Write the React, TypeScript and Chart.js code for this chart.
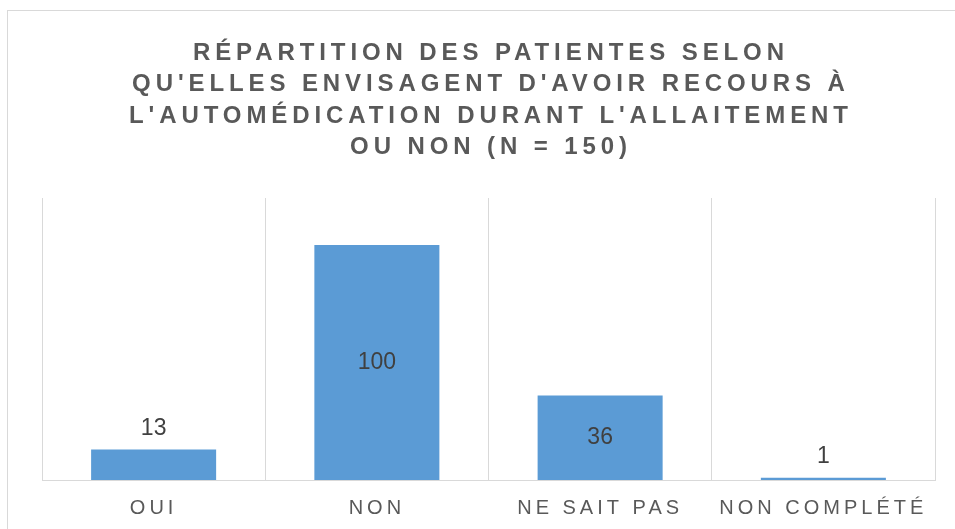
import React, { useEffect, useRef } from "react";
import { Chart, registerables } from "chart.js";

Chart.register(...registerables);

const categories = ["OUI", "NON", "NE SAIT PAS", "NON COMPLÉTÉ"];
const counts = [13, 100, 36, 1];
const titleLines = [
  "RÉPARTITION DES PATIENTES SELON",
  "QU'ELLES ENVISAGENT D'AVOIR RECOURS À",
  "L'AUTOMÉDICATION DURANT L'ALLAITEMENT",
  "OU NON (N = 150)",
];
const yMax = 120;

const FONT = "'Liberation Sans', Arial, sans-serif";

const framePlugin = {
  id: "frame",
  beforeDraw(chart: any) {
    const ctx = chart.ctx as CanvasRenderingContext2D;
    ctx.save();
    ctx.fillStyle = "#ffffff";
    ctx.fillRect(0, 0, chart.width, chart.height);
    ctx.strokeStyle = "#d9d9d9";
    ctx.lineWidth = 1;
    ctx.strokeRect(7.5, 10.5, 1200, 1200);
    ctx.restore();
    (ctx as any).letterSpacing = "4px";
  },
  beforeDatasetsDraw(chart: any) {
    (chart.ctx as any).letterSpacing = "0px";
  },
};

const labelPlugin = {
  id: "barLabels",
  afterDatasetsDraw(chart: any) {
    const ctx = chart.ctx as CanvasRenderingContext2D;
    const meta = chart.getDatasetMeta(0);
    ctx.save();
    (ctx as any).letterSpacing = "0px";
    ctx.font = `23px ${FONT}`;
    ctx.fillStyle = "#404040";
    ctx.textAlign = "center";
    ctx.textBaseline = "middle";
    meta.data.forEach((bar: any, i: number) => {
      const v = counts[i];
      const h = bar.base - bar.y;
      let y: number;
      if (h > 40) y = (bar.y + bar.base) / 2;
      else y = bar.y - 21;
      ctx.fillText(String(v), bar.x, y);
    });
    ctx.restore();
  },
};

const titlePlugin = {
  id: "customTitle",
  afterDraw(chart: any) {
    const ctx = chart.ctx as CanvasRenderingContext2D;
    const area = chart.chartArea;
    const cx = (area.left + area.right) / 2;
    ctx.save();
    (ctx as any).letterSpacing = "4.9px";
    ctx.font = `bold 24px ${FONT}`;
    ctx.fillStyle = "#595959";
    ctx.textAlign = "center";
    ctx.textBaseline = "alphabetic";
    titleLines.forEach((line, i) => {
      ctx.fillText(line, cx + 2.45, 60 + i * 31.3);
    });
    ctx.restore();
  },
};

export default function App() {
  const ref = useRef<HTMLCanvasElement | null>(null);
  useEffect(() => {
    if (!ref.current) return;
    const chart = new Chart(ref.current, {
      type: "bar",
      data: {
        labels: categories,
        datasets: [
          {
            data: counts,
            backgroundColor: "#5b9bd5",
            borderWidth: 0,
            barPercentage: 0.56,
            categoryPercentage: 1,
          },
        ],
      },
      options: {
        animation: false,
        responsive: false,
        maintainAspectRatio: false,
        layout: { padding: { top: 198, left: 42, right: 20, bottom: -7 } },
        plugins: {
          legend: { display: false },
          title: { display: false },
          tooltip: { enabled: false },
        },
        scales: {
          x: {
            grid: { color: "#d9d9d9", lineWidth: 1, drawTicks: false, offset: true },
            border: { color: "#d9d9d9", width: 1 },
            ticks: {
              color: "#595959",
              font: { family: FONT, size: 20 },
              padding: 16,
              maxRotation: 0,
              autoSkip: false,
            },
          },
          y: {
            display: false,
            min: 0,
            max: yMax,
          },
        },
      },
      plugins: [framePlugin, labelPlugin, titlePlugin],
    });
    return () => chart.destroy();
  }, []);
  return (
    <div style={{ position: "fixed", left: 0, top: 0, width: 955, height: 529 }}>
      <canvas ref={ref} width={955} height={529} style={{ display: "block" }} />
    </div>
  );
}
